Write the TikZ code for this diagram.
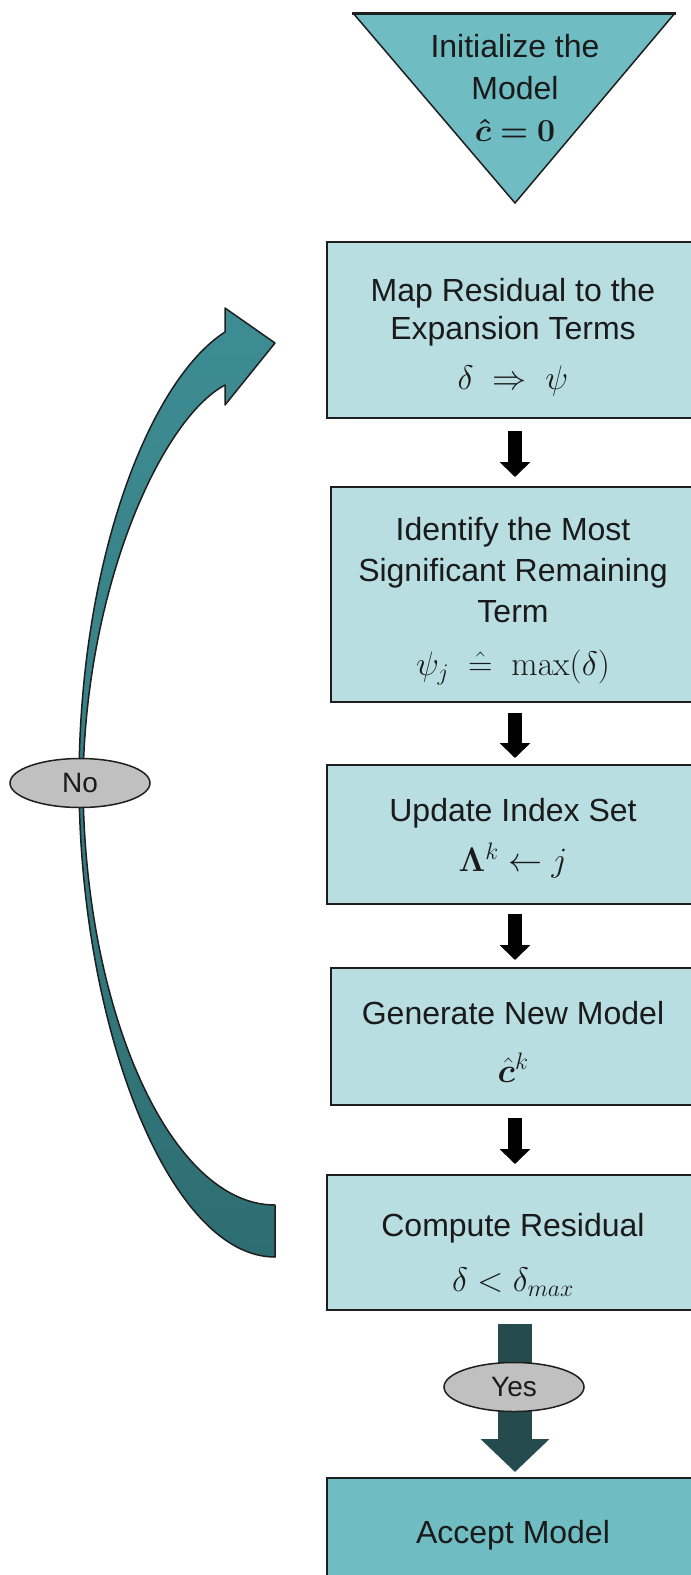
\RequirePackage{fix-cm}
\documentclass[tikz,border=0pt]{standalone}
\usepackage{amsmath,amssymb}
\usepackage{bm}
\usepackage[no-math]{fontspec}
\setmainfont{Liberation Sans}
\usetikzlibrary{shapes.geometric,arrows.meta,calc}
\definecolor{boxfill}{HTML}{B8DEE2}
\definecolor{tealmid}{HTML}{6FBCC3}
\definecolor{curvetop}{HTML}{3E8D94}
\definecolor{curvebot}{HTML}{2E6E72}
\definecolor{yesdark}{HTML}{254B4E}
\definecolor{ovalgray}{HTML}{C0C0C0}
\definecolor{edgecol}{HTML}{1E1E1E}
\definecolor{txtcol}{HTML}{1A1A1A}
\newcommand{\fml}[1]{{\fontsize{34}{40}\selectfont$#1$}}
\newcommand{\topstrut}[1]{\rule{0pt}{#1}}
\newcommand{\estim}{\mathrel{\hat{=}}}
\begin{document}
\begin{tikzpicture}[x=1pt,y=-1pt,
  txt/.style={font=\fontsize{32}{38}\selectfont, align=center, text=txtcol},
  procbox/.style={draw=edgecol, line width=2pt, fill=boxfill, minimum width=372pt, inner sep=0pt, txt},
  smallarrow/.style={line width=14pt, black, -{Triangle[width=30pt,length=15pt]}},
  oval/.style={ellipse, draw=edgecol, line width=1.5pt, fill=ovalgray, minimum width=140pt, minimum height=49pt, inner sep=0pt, text=txtcol, font=\fontsize{28}{34}\selectfont},
]
\useasboundingbox (0,0) rectangle (691,1575);
\clip (0,0) rectangle (691,1575);

% initial triangle
\path[fill=tealmid] (353,13) -- (675,13) -- (515,203) -- cycle;
\draw[edgecol, line width=1.5pt, line join=round] (675,13) -- (515,203) -- (353,13);
\draw[edgecol, line width=3pt] (352,13) -- (676,13);
\node[txt, font=\fontsize{32}{42}\selectfont] (init) at (515,88) {Initialize the\\Model\\$\bm{\hat{c}=0}$};

% process boxes
\node[procbox, minimum height=176pt] (b1) at (513,330) {\topstrut{37pt}Map Residual to the\\Expansion Terms\\[12pt]\fml{\delta\;\Rightarrow\;\psi}};
\node[procbox, minimum width=364pt, minimum height=215pt, font=\fontsize{32}{41}\selectfont] (b2) at (513,594.5) {\topstrut{37pt}Identify the Most\\Significant Remaining\\Term\\[12pt]\fml{\psi_j\;\estim\;\max(\delta)}};
\node[procbox, minimum height=139pt] (b3) at (513,834.5) {\topstrut{31pt}Update Index Set\\[12pt]\fml{\bm{\Lambda}^k\leftarrow j}};
\node[procbox, minimum width=364pt, minimum height=137pt] (b4) at (513,1036.5) {\topstrut{33pt}Generate New Model\\[20pt]\fml{\hat{\bm{c}}^k}};
\node[procbox, minimum height=135pt] (b5) at (513,1242.5) {\topstrut{48pt}Compute Residual\\[17pt]\fml{\delta<\delta_{max}}};
\node[procbox, fill=tealmid, minimum height=114pt] (acc) at (513,1535) {Accept Model};

% small arrows
\draw[smallarrow] ($(b1.south)+(2,12)$) -- ($(b2.north)+(2,-9)$);
\draw[smallarrow] ($(b2.south)+(2,10)$) -- ($(b3.north)+(2,-6)$);
\draw[smallarrow] ($(b3.south)+(2,9)$) -- ($(b4.north)+(2,-7)$);
\draw[smallarrow] ($(b4.south)+(2,12)$) -- ($(b5.north)+(2,-10)$);

% yes arrow
\draw[line width=34pt, yesdark, -{Triangle[width=67pt,length=33pt]}] ($(b5.south)+(2,13)$) -- ($(acc.north)+(2,-5)$);
\node[oval] (yes) at (514,1387) {Yes};

% curved no arrow
\path[draw=edgecol, line width=1.5pt, line join=round, top color=curvetop, bottom color=curvebot]
 (225,332) -- (225,308) -- (275,343) -- (225,405) -- (225,385)
 .. controls (160,420) and (85,590) .. (83,783)
 .. controls (84,1010) and (170,1205) .. (275,1205)
 -- (275,1257)
 .. controls (170,1257) and (80,1030) .. (79,783)
 .. controls (79,560) and (150,380) .. (225,332) -- cycle;
\node[oval] (no) at (80,783) {No};
\end{tikzpicture}
\end{document}
